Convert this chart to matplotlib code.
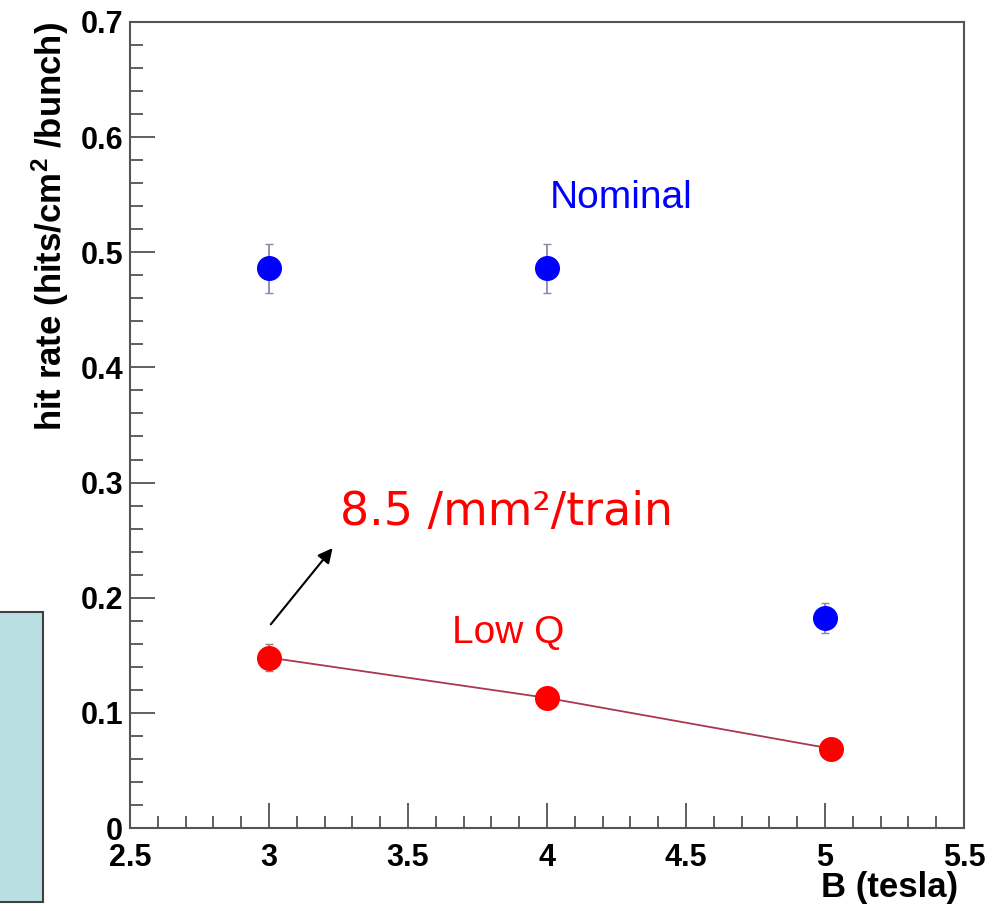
import matplotlib
matplotlib.use("Agg")
import matplotlib.pyplot as plt
import matplotlib.patches as patches
from matplotlib.ticker import MultipleLocator, FuncFormatter

# values
b_field = [3.0, 4.0, 5.0]
nominal_rate = [0.486, 0.486, 0.182]
nominal_err = [0.021, 0.021, 0.013]

lowq_b = [3.0, 4.0, 5.02]
lowq_rate = [0.148, 0.113, 0.069]
lowq_err = [0.012, 0.008, 0.006]

x_range = (2.5, 5.5)
y_range = (0.0, 0.7)

plt.rcParams['font.family'] = ['Liberation Sans', 'DejaVu Sans']
plt.rcParams['mathtext.fontset'] = 'custom'
plt.rcParams['mathtext.rm'] = 'Liberation Sans:bold'
plt.rcParams['mathtext.default'] = 'rm'

fig = plt.figure(figsize=(9.95, 9.11), dpi=100)
ax = fig.add_axes([0.1307, 0.0911, 0.8381, 0.8848])

# blue = nominal
ax.errorbar(b_field, nominal_rate, yerr=nominal_err, fmt='o', color='#0000ff',
            ms=17, ecolor='#8888aa', elinewidth=1.3, capsize=3, zorder=3)
# red = low Q, joined by a line
ax.plot(lowq_b, lowq_rate, color='#a83850', lw=1.3, zorder=2)
ax.errorbar(lowq_b, lowq_rate, yerr=lowq_err, fmt='o', color='#ff0000',
            ms=17, ecolor='#888888', elinewidth=1.3, capsize=3, zorder=3)

ax.set_xlim(*x_range)
ax.set_ylim(*y_range)

ax.xaxis.set_major_locator(MultipleLocator(0.5))
ax.xaxis.set_minor_locator(MultipleLocator(0.1))
ax.yaxis.set_major_locator(MultipleLocator(0.1))
ax.yaxis.set_minor_locator(MultipleLocator(0.02))
fmt = FuncFormatter(lambda v, p: "%g" % round(v, 3))
ax.xaxis.set_major_formatter(fmt)
ax.yaxis.set_major_formatter(fmt)

ax.tick_params(which='both', direction='in', top=False, right=False, color='#444444', width=1.2)
ax.tick_params(which='major', length=18)
ax.tick_params(which='minor', length=9)
ax.tick_params(axis='x', which='major', pad=11, labelsize=22)
ax.tick_params(axis='y', which='major', pad=5, labelsize=22)
for lab in ax.get_xticklabels() + ax.get_yticklabels():
    lab.set_fontweight('bold')

for s in ax.spines.values():
    s.set_color('#555555')
    s.set_linewidth(1.5)

ax.set_xlabel("B (tesla)", fontsize=25, fontweight='bold', loc='right')
ax.xaxis.set_label_coords(0.993, -0.053)
ax.set_ylabel(r"hit rate (hits/cm$^{2}$ /bunch)", fontsize=25, fontweight='bold', loc='top')
ax.yaxis.set_label_coords(-0.071, 1.0)

ax.text(4.266, 0.5385, "Nominal", color='#0000ff', fontsize=28, ha='center', va='baseline')
ax.text(3.86, 0.1607, "Low Q", color='#ff0000', fontsize=28, ha='center', va='baseline')
ax.text(3.856, 0.263, "8.5 /mm\u00b2/train", color='#ff0000', fontsize=33,
        family='DejaVu Sans', ha='center', va='baseline')
ax.annotate("", xy=(3.235, 0.245), xytext=(3.0, 0.175),
            arrowprops=dict(arrowstyle='-|>', color='black', lw=1.5, mutation_scale=22))

# piece of a neighbouring box on the slide
box = patches.Rectangle((-0.01, 1 - 902 / 911), 43 / 995 + 0.01, 290 / 911,
                        transform=fig.transFigure, facecolor='#b9dfe3',
                        edgecolor='#404040', lw=1.5, clip_on=False)
fig.patches.append(box)

fig.savefig("out.png", dpi=100)
